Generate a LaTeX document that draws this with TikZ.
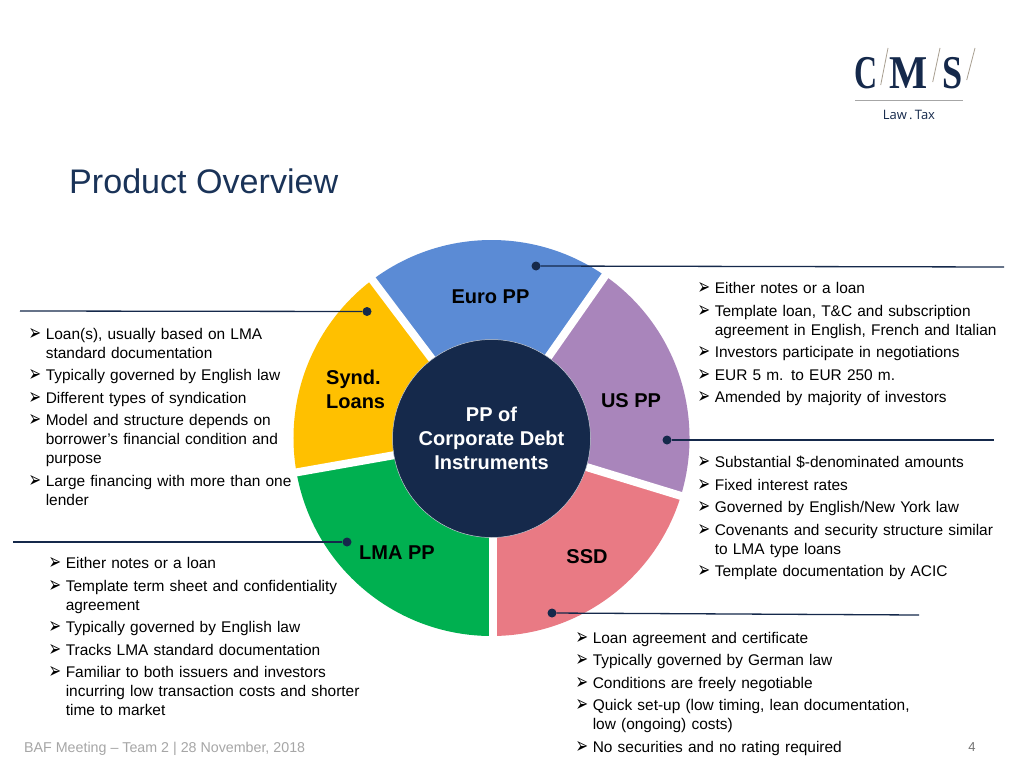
\documentclass[tikz,border=0pt]{standalone}
\usepackage{fontspec}
\setmainfont{Liberation Sans}
\newfontfamily\bulletfont{DejaVu Sans}
\newfontfamily\logofont{Liberation Serif}
\newfontfamily\taglinefont{Open Sans}
\definecolor{navycol}{HTML}{15294B}
\definecolor{eurocol}{HTML}{5B8BD5}
\definecolor{uscol}{HTML}{A985BB}
\definecolor{ssdcol}{HTML}{E97A84}
\definecolor{lmacol}{HTML}{00B050}
\definecolor{syndcol}{HTML}{FFC000}
\definecolor{titlecol}{HTML}{1A3358}
\definecolor{footcol}{HTML}{A6A6A6}
\definecolor{slashcol}{HTML}{A89F91}
\newcommand{\bitem}[1]{\par\leftskip=17.6pt\noindent\llap{\makebox[17.6pt][l]{\hspace{0.5pt}\raisebox{-1pt}{\scalebox{1}[1.5]{\bulletfont\fontsize{15}{15}\selectfont ➢}}}}#1\par}
\tikzset{
    listbox/.style={anchor=north west,inner sep=0,text width=400pt,align=left,font=\fontsize{15.45}{19}\selectfont,
        execute at begin node={\setlength{\parskip}{3.55pt}\setlength{\parindent}{0pt}}},
    seglabel/.style={font=\fontsize{20}{24}\bfseries\selectfont,text=black,inner sep=0},
    logoletter/.style={anchor=base,inner sep=0,text=navycol,transform shape,font=\logofont\fontsize{47}{50}\bfseries\selectfont},
    dot/.style={circle,fill=navycol,inner sep=0,minimum size=9pt},
    leader/.style={navycol,line width=1.3pt},
}
\begin{document}
\begin{tikzpicture}[x=1pt,y=-1pt]
    \pgfmathsetmacro{\outerradius}{198}
    \pgfmathsetmacro{\innerradius}{99}
    \pgfmathsetmacro{\gapwidth}{8}
    \useasboundingbox (0,0) rectangle (1024,768);
    \fill[white] (0,0) rectangle (1024,768);
    % wheel
    \begin{scope}[shift={(491.5,438)},yscale=-1]
        \foreach \a/\b/\c in {55/127/eurocol,127/190/syndcol,190/270/lmacol,270/343/ssdcol,343/415/uscol}
            \fill[\c] (0,0) -- (\a:\outerradius) arc[start angle=\a,end angle=\b,radius=\outerradius] -- cycle;
        \foreach \a in {55,127,190,343}
            \draw[white,line width=\gapwidth pt] (0,0) -- (\a:\outerradius+3);
        \draw[white,line width=\gapwidth pt] (1.8,0) -- (1.8,-\outerradius-3);
    \end{scope}
    \node[circle,fill=navycol,draw=white!75!navycol,line width=0.5pt,minimum size=2*\innerradius pt,inner sep=0,
        text=white,align=center,font=\fontsize{20}{24}\bfseries\selectfont] (hub) at (491.5,438.5) {PP of\\Corporate Debt\\Instruments};
    % segment labels
    \node[seglabel] (euro) at (490.5,297) {Euro PP};
    \node[seglabel,align=left,anchor=west] (synd) at (326,389) {Synd.\\Loans};
    \node[seglabel] (us) at (631,401) {US PP};
    \node[seglabel] (lma) at (397,553) {LMA PP};
    \node[seglabel] (ssd) at (587,556.5) {SSD};
    % leaders
    \node[dot] (eurodot) at (536,266) {};
    \node[dot] (usdot) at (667,440) {};
    \node[dot] (ssddot) at (552,613) {};
    \node[dot] (synddot) at (367,311.5) {};
    \node[dot] (lmadot) at (347,542) {};
    \coordinate (euroend) at (1004,267);
    \coordinate (usend) at (994,440);
    \coordinate (ssdend) at (919,615);
    \coordinate (syndend) at (20,311);
    \coordinate (lmaend) at (13,542);
    \draw[leader] (eurodot) -- (euroend);
    \draw[leader] (usdot) -- (usend);
    \draw[leader] (ssddot) -- (ssdend);
    \draw[leader] (synddot) -- (syndend);
    \draw[leader] (lmadot) -- (lmaend);
    % lists
    \node[listbox] (syndlist) at (28,316.5) {
        \bitem{Loan(s), usually based on LMA\\standard documentation}
        \bitem{Typically governed by English law}
        \bitem{Different types of syndication}
        \bitem{Model and structure depends on\\borrower’s financial condition and\\purpose}
        \bitem{Large financing with more than one\\lender}
    };
    \node[listbox] (lmalist) at (48,546) {
        \bitem{Either notes or a loan}
        \bitem{Template term sheet and confidentiality\\agreement}
        \bitem{Typically governed by English law}
        \bitem{Tracks LMA standard documentation}
        \bitem{Familiar to both issuers and investors\\incurring low transaction costs and shorter\\time to market}
    };
    \node[listbox] (eurolist) at (697,271) {
        \bitem{Either notes or a loan}
        \bitem{Template loan, T\&C and subscription\\agreement in English, French and Italian}
        \bitem{Investors participate in negotiations}
        \bitem{EUR 5 m. to EUR 250 m.}
        \bitem{Amended by majority of investors}
    };
    \node[listbox] (uslist) at (697,445) {
        \bitem{Substantial \$-denominated amounts}
        \bitem{Fixed interest rates}
        \bitem{Governed by English/New York law}
        \bitem{Covenants and security structure similar\\to LMA type loans}
        \bitem{Template documentation by ACIC}
    };
    \node[listbox] (ssdlist) at (575,620.5) {
        \bitem{Loan agreement and certificate}
        \bitem{Typically governed by German law}
        \bitem{Conditions are freely negotiable}
        \bitem{Quick set-up (low timing, lean documentation,\\low (ongoing) costs)}
        \bitem{No securities and no rating required}
    };
    % title and footer
    \node[anchor=base west,inner sep=0,text=titlecol,font=\fontsize{34.1}{36}\selectfont] (title) at (69,193) {Product Overview};
    \node[anchor=base west,inner sep=0,text=footcol,font=\fontsize{14.25}{16}\selectfont] (footer) at (24,752) {BAF Meeting – Team 2 | 28 November, 2018};
    \node[anchor=base,inner sep=0,text=footcol!70!black,font=\fontsize{13}{16}\selectfont] (pagenum) at (972,751) {4};
    % logo
    \node[logoletter,xscale=.68] (logoc) at (866.5,88) {C};
    \node[logoletter,xscale=.86] (logom) at (909,88) {M};
    \node[logoletter,xscale=.77] (logos) at (953,88) {S};
    \draw[slashcol,line width=0.8pt] (880.7,85) -- (888,48);
    \draw[slashcol,line width=0.8pt] (932.7,82) -- (940,48);
    \draw[slashcol,line width=0.8pt] (966.7,80) -- (975,48);
    \draw[footcol,line width=0.9pt] (855,100) -- (963,100);
    \node[anchor=base,inner sep=0,text=navycol,font=\taglinefont\fontsize{13}{14}\selectfont] (tagline) at (909,119.5) {Law\,.\,Tax};
\end{tikzpicture}
\end{document}
